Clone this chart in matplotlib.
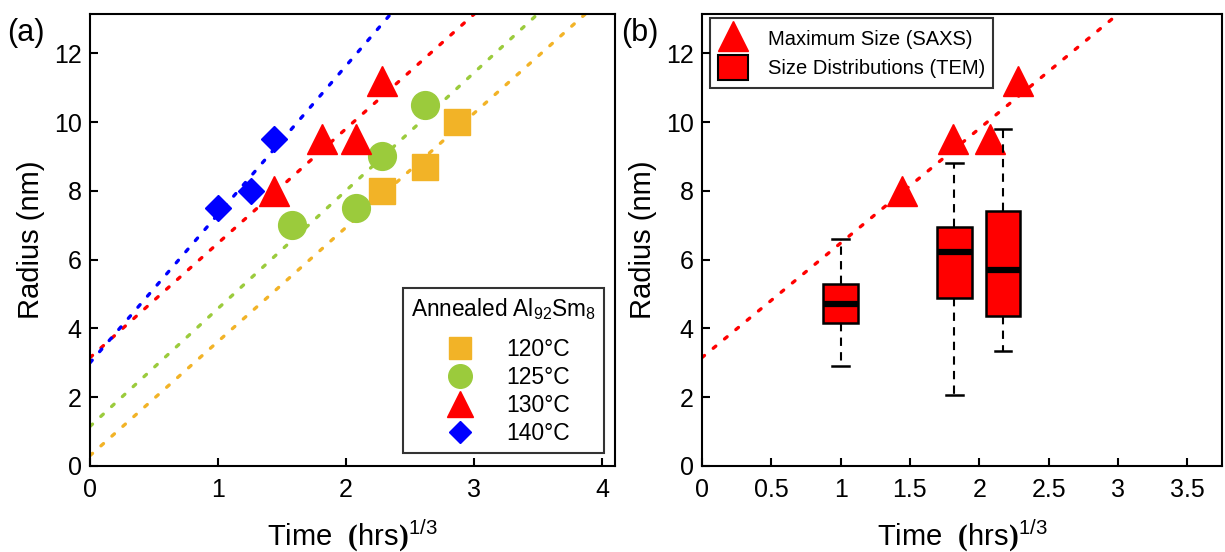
import numpy as np
import matplotlib
matplotlib.use("Agg")
import matplotlib.pyplot as plt
from matplotlib.lines import Line2D
from matplotlib.patches import Patch

plt.rcParams['font.family'] = ['Liberation Sans', 'DejaVu Sans']
plt.rcParams['mathtext.fontset'] = 'custom'
plt.rcParams['mathtext.rm'] = 'Liberation Sans'
plt.rcParams['mathtext.it'] = 'Liberation Sans'
plt.rcParams['mathtext.bf'] = 'Liberation Serif:bold'

# panel (a) data
t120 = [2.28, 2.62, 2.87]
r120 = [8.0, 8.7, 10.0]
t125 = [1.58, 2.08, 2.28, 2.62]
r125 = [7.0, 7.5, 9.0, 10.5]
t130 = [1.44, 1.81, 2.08, 2.28]
r130 = [8.0, 9.5, 9.5, 11.2]
t140 = [1.0, 1.26, 1.44]
r140 = [7.5, 8.0, 9.5]

# linear fits (intercept, slope)
fit120 = (0.30, 3.32)
fit125 = (1.15, 3.43)
fit130 = (3.15, 3.33)
fit140 = (3.00, 4.32)

# panel (b) box stats (TEM size distributions)
box_pos = [1.0, 1.82, 2.17]
box_low = [2.9, 2.05, 3.35]
box_q1 = [4.15, 4.88, 4.35]
box_med = [4.7, 6.22, 5.7]
box_q3 = [5.3, 6.95, 7.4]
box_high = [6.6, 8.8, 9.8]

c120 = '#F2B327'
c125 = '#9BCB3C'
c130 = '#FF0000'
c140 = '#0000FF'
dots = (0, (1.0, 3.4))

fig = plt.figure(figsize=(12.25, 5.52), dpi=100)
ax1 = fig.add_axes([0.0735, 0.156, 0.4285, 0.819])
ax2 = fig.add_axes([0.573, 0.156, 0.4245, 0.819])

xx = np.linspace(0, 4.2, 200)
for (b, m), c in [(fit120, c120), (fit125, c125), (fit130, c130), (fit140, c140)]:
    ax1.plot(xx, b + m * xx, linestyle=dots, color=c, lw=2.4, dash_capstyle='round')

ax1.plot(t120, r120, 's', color=c120, ms=19, label='120°C')
ax1.plot(t125, r125, 'o', color=c125, ms=20, label='125°C')
ax1.plot(t130, r130, '^', color=c130, ms=22, label='130°C')
ax1.plot(t140, r140, 'D', color=c140, ms=13, label='140°C')

leg = ax1.legend(loc='lower right', title='Annealed Al$_{92}$Sm$_8$', fontsize=16.5,
                 title_fontsize=16.3, frameon=True, fancybox=False, edgecolor='black',
                 handletextpad=1.0, labelspacing=0.22, borderpad=0.35, markerscale=0.85,
                 borderaxespad=0, bbox_to_anchor=(0.979, 0.029))
leg.get_frame().set_linewidth(1.5)
leg._legend_box.sep = 11.5

ax1.set_xlim(0, 4.1)
ax1.set_xticks([0, 1, 2, 3, 4])

# panel (b)
ax2.plot(xx, fit130[0] + fit130[1] * xx, linestyle=dots, color=c130, lw=2.4, dash_capstyle='round')
ax2.plot(t130, r130, '^', color=c130, ms=22)

stats = []
for i in range(len(box_pos)):
    stats.append({'whislo': box_low[i], 'q1': box_q1[i], 'med': box_med[i],
                  'q3': box_q3[i], 'whishi': box_high[i], 'fliers': []})
ax2.bxp(stats, positions=box_pos, widths=0.25, patch_artist=True, showfliers=False,
        manage_ticks=False,
        boxprops=dict(facecolor=c130, edgecolor='black', linewidth=1.8),
        medianprops=dict(color='black', linewidth=4.5),
        whiskerprops=dict(color='black', linestyle=(0, (4, 3)), linewidth=1.5),
        capprops=dict(color='black', linewidth=1.8), capwidths=0.12)

h = [Line2D([], [], marker='^', color=c130, ls='none', ms=22),
     Patch(facecolor=c130, edgecolor='black', linewidth=1.5)]
leg2 = ax2.legend(h, ['Maximum Size (SAXS)', 'Size Distributions (TEM)'], loc='upper left',
                  fontsize=14.5, frameon=True, fancybox=False, edgecolor='black',
                  handlelength=1.5, handleheight=1.5, handletextpad=1.0, labelspacing=0.2,
                  borderpad=0.4, borderaxespad=0, bbox_to_anchor=(0.015, 0.99))
leg2.get_frame().set_linewidth(1.5)

ax2.set_xlim(0, 3.75)
ax2.set_xticks([0, 0.5, 1, 1.5, 2, 2.5, 3, 3.5])
ax2.set_xticklabels(['0', '0.5', '1', '1.5', '2', '2.5', '3', '3.5'])

for ax in (ax1, ax2):
    ax.set_ylim(0, 13.15)
    ax.set_yticks([0, 2, 4, 6, 8, 10, 12])
    ax.tick_params(direction='in', length=6, width=1.5, labelsize=18, pad=6,
                   top=False, right=False)
    ax.tick_params(axis='x', pad=9)
    for s in ax.spines.values():
        s.set_linewidth(1.5)
    ax.set_ylabel('Radius (nm)', fontsize=21, labelpad=6)
    ax.set_xlabel(r'Time  $\mathbf{(}\mathrm{hrs}\mathbf{)}^{1/3}$', fontsize=21, labelpad=11)

fig.text(0.006, 0.925, '(a)', fontsize=22)
fig.text(0.507, 0.925, '(b)', fontsize=22)

fig.savefig('out.png', dpi=100)
